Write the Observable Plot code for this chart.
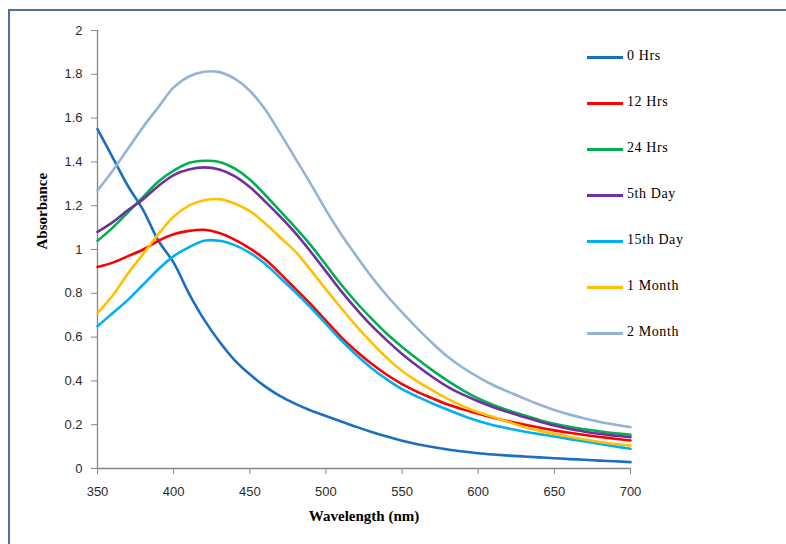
<!DOCTYPE html>
<html>
<head>
<meta charset="utf-8">
<script src="https://cdn.jsdelivr.net/npm/d3@7"></script>
<script src="https://cdn.jsdelivr.net/npm/@observablehq/plot@0.6"></script>
<style>
  html, body { margin: 0; padding: 0; background: #fff; overflow: hidden; }
  #wrap { position: relative; width: 786px; height: 544px; overflow: hidden; }
  #border { position: absolute; left: 8px; top: 9px; width: 820px; height: 580px;
            border-left: 2px solid #4f6fa3; border-top: 2px solid #4f6fa3; }
  #legend { position: absolute; left: 587px; top: 0; font-family: "Liberation Serif", serif;
            font-size: 14px; color: #000; }
  .item { position: absolute; left: 0; height: 20px; white-space: nowrap; }
  .swatch { position: absolute; left: 0; top: 8.5px; width: 36px; height: 3px; }
  .lab { position: absolute; left: 40px; top: 1px; letter-spacing: 0.6px; }
</style>
</head>
<body>
<div id="wrap">
  <div id="border"></div>
  <div id="chart"></div>
  <div id="legend"></div>
</div>
<script>
const wavelengths = [350,360,370,380,390,400,410,420,430,440,450,460,470,480,490,500,510,520,530,540,550,560,570,580,590,600,610,620,630,640,650,660,670,680,690,700];

const hrs0   = [1.55,1.42,1.29,1.18,1.04,0.94,0.80,0.68,0.58,0.495,0.43,0.375,0.33,0.295,0.265,0.24,0.215,0.19,0.167,0.146,0.127,0.111,0.098,0.087,0.078,0.07,0.064,0.059,0.055,0.051,0.047,0.043,0.04,0.036,0.033,0.029];
const hrs12  = [0.92,0.94,0.97,1.00,1.04,1.07,1.085,1.09,1.075,1.045,1.005,0.955,0.89,0.82,0.75,0.675,0.60,0.535,0.478,0.428,0.385,0.35,0.32,0.292,0.27,0.25,0.232,0.216,0.201,0.187,0.174,0.163,0.153,0.144,0.136,0.128];
const hrs24  = [1.04,1.10,1.17,1.24,1.31,1.36,1.395,1.405,1.40,1.37,1.32,1.25,1.175,1.10,1.02,0.93,0.84,0.758,0.684,0.615,0.555,0.50,0.448,0.40,0.357,0.32,0.29,0.265,0.243,0.222,0.204,0.19,0.179,0.169,0.161,0.154];
const day5   = [1.08,1.125,1.18,1.23,1.29,1.34,1.365,1.375,1.365,1.335,1.285,1.22,1.15,1.075,0.99,0.90,0.81,0.728,0.652,0.585,0.523,0.468,0.418,0.373,0.337,0.307,0.28,0.257,0.235,0.215,0.196,0.18,0.168,0.158,0.15,0.143];
const day15  = [0.65,0.71,0.77,0.84,0.91,0.97,1.01,1.04,1.04,1.02,0.985,0.935,0.87,0.805,0.735,0.66,0.585,0.518,0.458,0.407,0.362,0.328,0.297,0.268,0.241,0.217,0.198,0.183,0.169,0.157,0.146,0.134,0.123,0.112,0.101,0.09];
const month1 = [0.71,0.79,0.89,0.98,1.07,1.15,1.20,1.225,1.23,1.21,1.175,1.12,1.055,0.99,0.906,0.818,0.733,0.65,0.575,0.505,0.445,0.398,0.357,0.318,0.285,0.257,0.235,0.212,0.19,0.173,0.158,0.145,0.132,0.121,0.112,0.105];
const month2 = [1.27,1.36,1.46,1.56,1.65,1.74,1.79,1.812,1.81,1.78,1.725,1.64,1.53,1.415,1.30,1.18,1.07,0.97,0.875,0.79,0.713,0.64,0.572,0.51,0.46,0.417,0.38,0.35,0.32,0.292,0.267,0.246,0.228,0.212,0.20,0.189];

const seriesNames  = ["0 Hrs","12 Hrs","24 Hrs","5th Day","15th Day","1 Month","2 Month"];
const seriesValues = [hrs0, hrs12, hrs24, day5, day15, month1, month2];
const seriesColors = ["#1c6fc0","#ff0000","#00b050","#7030a0","#00b0f0","#ffc000","#95b3d7"];

const xTicks = [350,400,450,500,550,600,650,700];
const xTickLabels = ["350","400","450","500","550","600","650","700"];
const yTicks = [0,0.2,0.4,0.6,0.8,1,1.2,1.4,1.6,1.8,2];
const yTickLabels = ["0","0.2","0.4","0.6","0.8","1","1.2","1.4","1.6","1.8","2"];

const xTitle = "Wavelength (nm)";
const yTitle = "Absorbance";

const rows = [];
seriesNames.forEach((name, i) => {
  wavelengths.forEach((w, j) => rows.push({series: name, wl: w, a: seriesValues[i][j]}));
});

const axisColor = "#868686";

const chart = Plot.plot({
  width: 786,
  height: 544,
  marginLeft: 97,
  marginRight: 156,
  marginTop: 30,
  marginBottom: 76,
  style: {fontFamily: "'Liberation Sans', Arial, sans-serif", fontSize: "13px", color: "#333", background: "transparent", overflow: "visible"},
  x: {domain: [350, 700]},
  y: {domain: [0, 2]},
  color: {domain: seriesNames, range: seriesColors},
  marks: [
    Plot.axisY({ticks: yTicks, tickFormat: (d) => yTickLabels[yTicks.indexOf(d)], tickSize: 6, tickPadding: 9, stroke: axisColor, fill: "#2b2b2b", label: null, fontSize: 13}),
    Plot.axisX({ticks: xTicks, tickFormat: (d) => xTickLabels[xTicks.indexOf(d)], tickSize: 6, tickPadding: 12, stroke: axisColor, fill: "#2b2b2b", label: null, fontSize: 13}),
    Plot.ruleX([350], {stroke: axisColor, strokeWidth: 1.3}),
    Plot.ruleY([0], {stroke: axisColor, strokeWidth: 1.3}),
    Plot.line(rows, {x: "wl", y: "a", z: "series", stroke: "series", strokeWidth: 2.6, curve: "catmull-rom"}),
    Plot.text([xTitle], {frameAnchor: "bottom", dy: 52, text: (d) => d, fontFamily: "'Liberation Serif', serif", fontWeight: "bold", fontSize: 15, fill: "#000"}),
    Plot.text([yTitle], {frameAnchor: "left", dx: -55, rotate: -90, text: (d) => d, fontFamily: "'Liberation Serif', serif", fontWeight: "bold", fontSize: 15, fill: "#000"})
  ]
});
document.getElementById("chart").appendChild(chart);

const legend = document.getElementById("legend");
seriesNames.forEach((name, i) => {
  const item = document.createElement("div");
  item.className = "item";
  item.style.top = (47 + i * 46) + "px";
  const sw = document.createElement("div");
  sw.className = "swatch";
  sw.style.background = seriesColors[i];
  const lab = document.createElement("div");
  lab.className = "lab";
  lab.textContent = name;
  item.appendChild(sw);
  item.appendChild(lab);
  legend.appendChild(item);
});
</script>
</body>
</html>
